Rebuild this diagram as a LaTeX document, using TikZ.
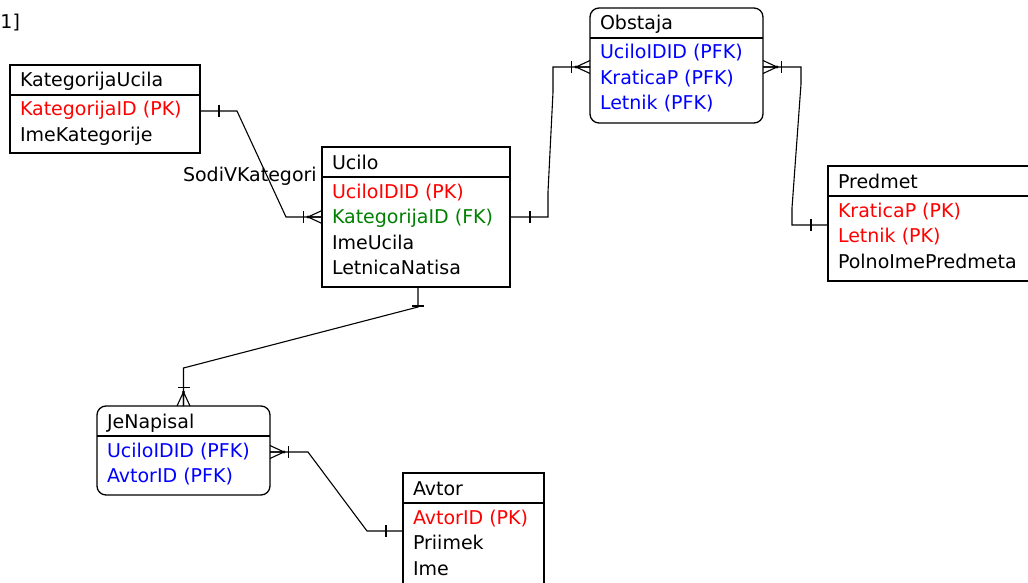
\documentclass[tikz,border=0pt]{standalone}
\usepackage{fontspec}
\setmainfont{DejaVu Sans}
\usetikzlibrary{calc}
\definecolor{erred}{RGB}{255,0,0}
\definecolor{ergreen}{RGB}{0,128,0}
\definecolor{erblue}{RGB}{0,0,255}
\newcommand\erfont{\fontsize{19}{21}\selectfont}
\newcommand\erent[8][]{%
  \node[ent,#1,minimum width=#5pt,minimum height=#6pt] (#2) at (#3,#4) {};
  \draw[line width=1.3pt] ([yshift=-30pt]#2.north west) -- ([yshift=-30pt]#2.north east);
  \node[txt] (#2-t) at ([xshift=10pt,yshift=-22pt]#2.north west) {#7};
  \foreach \rc/\rt [count=\ri] in {#8} {
    \node[txt,text=\rc] (#2-r\ri) at ([xshift=10pt,yshift={-51pt-25.5pt*(\ri-1)}]#2.north west) {\rt};
  }%
}
\begin{document}
\begin{tikzpicture}[x=1pt,y=-1pt,
  ent/.style={draw,rectangle,line width=1.3pt,anchor=north west,inner sep=0pt,outer sep=0pt},
  rnd/.style={rounded corners=9pt},
  txt/.style={anchor=base west,inner sep=0pt,outer sep=0pt,font=\erfont},
  conn/.style={line width=1.1pt},
  crow/.pic={
    \draw[conn] (-14,0) -- (0,-6.5) (-14,0) -- (0,6.5) (-14,0) -- (0,0);
    \draw[conn] (-18.5,-6) -- (-18.5,6);
    \fill (-14,0) circle[radius=1.6pt];
  },
  bar/.pic={\draw[conn] (0,-6) -- (0,6);}
]
\useasboundingbox (0,0) rectangle (1028,583);
\fill[white] (0,0) rectangle (1028,583);
\clip (0,0) rectangle (1028,583);

\node[txt] (ref) at (0.5,29) {1]};

\erent{kat}{10}{65}{190}{88}{KategorijaUcila}{erred/KategorijaID (PK), black/ImeKategorije}
\erent{ucilo}{322}{147}{188}{140}{Ucilo}{erred/UciloIDID (PK), ergreen/KategorijaID (FK), black/ImeUcila, black/LetnicaNatisa}
\erent[rnd]{obst}{590}{8}{173}{115}{Obstaja}{erblue/UciloIDID (PFK), erblue/KraticaP (PFK), erblue/Letnik (PFK)}
\erent{pred}{828}{166}{220}{115}{Predmet}{erred/KraticaP (PK), erred/Letnik (PK), black/PolnoImePredmeta}
\erent[rnd]{jen}{97}{406}{173}{89}{JeNapisal}{erblue/UciloIDID (PFK), erblue/AvtorID (PFK)}
\erent{avt}{403}{473}{141}{130}{Avtor}{erred/AvtorID (PK), black/Priimek, black/Ime}

% KategorijaUcila -> Ucilo
\coordinate (k1) at ([yshift=-46pt]kat.north east);
\coordinate (u1) at ([yshift=-70pt]ucilo.north west);
\draw[conn] (k1) -- ($(k1)+(37,0)$) -- ($(u1)+(-36,0)$) -- (u1);
\path ($(k1)+(19,0)$) pic {bar};
\path (u1) pic {crow};
\node[txt] (sodi) at (183,182) {SodiVKategori};

% Ucilo -> Obstaja
\coordinate (u2) at ([yshift=-70pt]ucilo.north east);
\coordinate (o1) at ([yshift=-59pt]obst.north west);
\draw[conn] (u2) -- ($(u2)+(38,0)$) -- ($(u2)+(38,-25)$) -- ($(o1)+(-37,25)$) -- ($(o1)+(-37,0)$) -- (o1);
\path ($(u2)+(20,0)$) pic {bar};
\path (o1) pic {crow};

% Obstaja -> Predmet
\coordinate (o2) at ([yshift=-59pt]obst.north east);
\coordinate (p1) at ([yshift=-59pt]pred.north west);
\draw[conn] (o2) -- ($(o2)+(38,0)$) -- ($(o2)+(38,17)$) -- ($(p1)+(-36,-17)$) -- ($(p1)+(-36,0)$) -- (p1);
\path (o2) pic[xscale=-1] {crow};
\path ($(p1)+(-17,0)$) pic {bar};

% Ucilo -> JeNapisal
\coordinate (u3) at ([xshift=2pt]ucilo.south);
\coordinate (j1) at (jen.north);
\draw[conn] (u3) -- ($(u3)+(0,20)$) -- ($(j1)+(0,-38)$) -- (j1);
\path ($(u3)+(0,19)$) pic[rotate=90] {bar};
\path (j1) pic[rotate=-90] {crow};

% JeNapisal -> Avtor
\coordinate (j2) at ([yshift=-46pt]jen.north east);
\coordinate (a1) at ([yshift=-58pt]avt.north west);
\draw[conn] (j2) -- ($(j2)+(38,0)$) -- ($(a1)+(-36,0)$) -- (a1);
\path (j2) pic[xscale=-1] {crow};
\path ($(a1)+(-17,0)$) pic {bar};
\end{tikzpicture}
\end{document}
